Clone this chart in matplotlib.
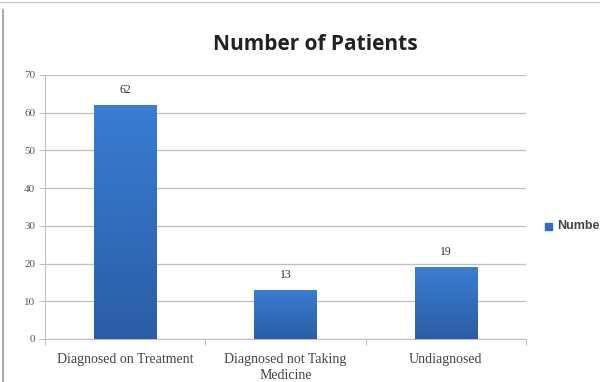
import matplotlib
matplotlib.use("Agg")
import matplotlib.pyplot as plt
import numpy as np
from matplotlib.colors import LinearSegmentedColormap
from matplotlib.patches import Rectangle
from matplotlib.lines import Line2D

categories = ["Diagnosed on Treatment", "Diagnosed not Taking\nMedicine", "Undiagnosed"]
values = [62, 13, 19]
yticks = [0, 10, 20, 30, 40, 50, 60, 70]
series_name = "Number"
title = "Number of Patients"

fig = plt.figure(figsize=(6.0, 3.82), dpi=100)
W, H = 600, 382
# plot area in pixel units
x0, x1 = 45, 526
y_top, y_bot = 75, 339
ax = fig.add_axes([x0 / W, 1 - y_bot / H, (x1 - x0) / W, (y_bot - y_top) / H])

n = len(categories)
xs = np.arange(n)
bar_w = 0.39
bars = ax.bar(xs, values, width=bar_w, color="#2f6cbf", zorder=3)

# vertical gradient fill inside each bar
cmap = LinearSegmentedColormap.from_list("barblue", ["#2a5da6", "#3a7dd3"])
grad = np.linspace(0, 1, 256).reshape(-1, 1)
for b in bars:
    bx, by = b.get_x(), b.get_y()
    bw, bh = b.get_width(), b.get_height()
    im = ax.imshow(grad, extent=[bx, bx + bw, by, by + bh], origin="lower",
                   cmap=cmap, aspect="auto", zorder=4)
    im.set_clip_path(b)

ax.set_xlim(-0.5, n - 0.5)
ax.set_ylim(0, 70)
ax.set_yticks(yticks)
ax.set_yticklabels([str(t) for t in yticks], fontsize=8, color="#555555",
                   family="Liberation Serif")
ax.grid(axis="y", color="#bfbfbf", linewidth=0.9, zorder=0)
ax.set_axisbelow(True)

for s in ["top", "right"]:
    ax.spines[s].set_visible(False)
ax.spines["left"].set_color("#bfbfbf")
ax.spines["bottom"].set_color("#bfbfbf")
ax.tick_params(axis="y", length=4, color="#bfbfbf", pad=3)

# category ticks between groups
ax.set_xticks(np.arange(-0.5, n, 1.0))
ax.set_xticklabels([""] * (n + 1))
ax.tick_params(axis="x", length=4, color="#bfbfbf")
for x, lab in zip(xs, categories):
    ax.text(x, -3.8, lab, ha="center", va="top", fontsize=10, color="#444444",
            family="Liberation Serif", linespacing=1.3, clip_on=False)

for x, v in zip(xs, values):
    ax.text(x, v + 2.4, str(v), ha="center", va="bottom", fontsize=8.5,
            color="#333333", family="Liberation Serif")

fig.text(315 / W, 1 - 44 / H, title, ha="center", va="center", fontsize=15,
         fontweight="bold", color="#222222", family="Open Sans")

# legend
fig.patches.append(Rectangle((545 / W, 1 - 230 / H), 7 / W, 7 / H,
                             transform=fig.transFigure, color="#2f6cbf"))
fig.text(557 / W, 1 - 226.5 / H, series_name, ha="left", va="center",
         fontsize=9, fontweight="bold", color="#444444", family="Liberation Sans")

# chart frame
fig.add_artist(Line2D([3 / W, 3 / W], [0, 1 - 10 / H], transform=fig.transFigure,
                      color="#9a9a9a", linewidth=1.2))
fig.add_artist(Line2D([0, 1], [1 - 1.5 / H, 1 - 1.5 / H], transform=fig.transFigure,
                      color="#c8c8c8", linewidth=1.0))

fig.savefig("out.png", dpi=100)
